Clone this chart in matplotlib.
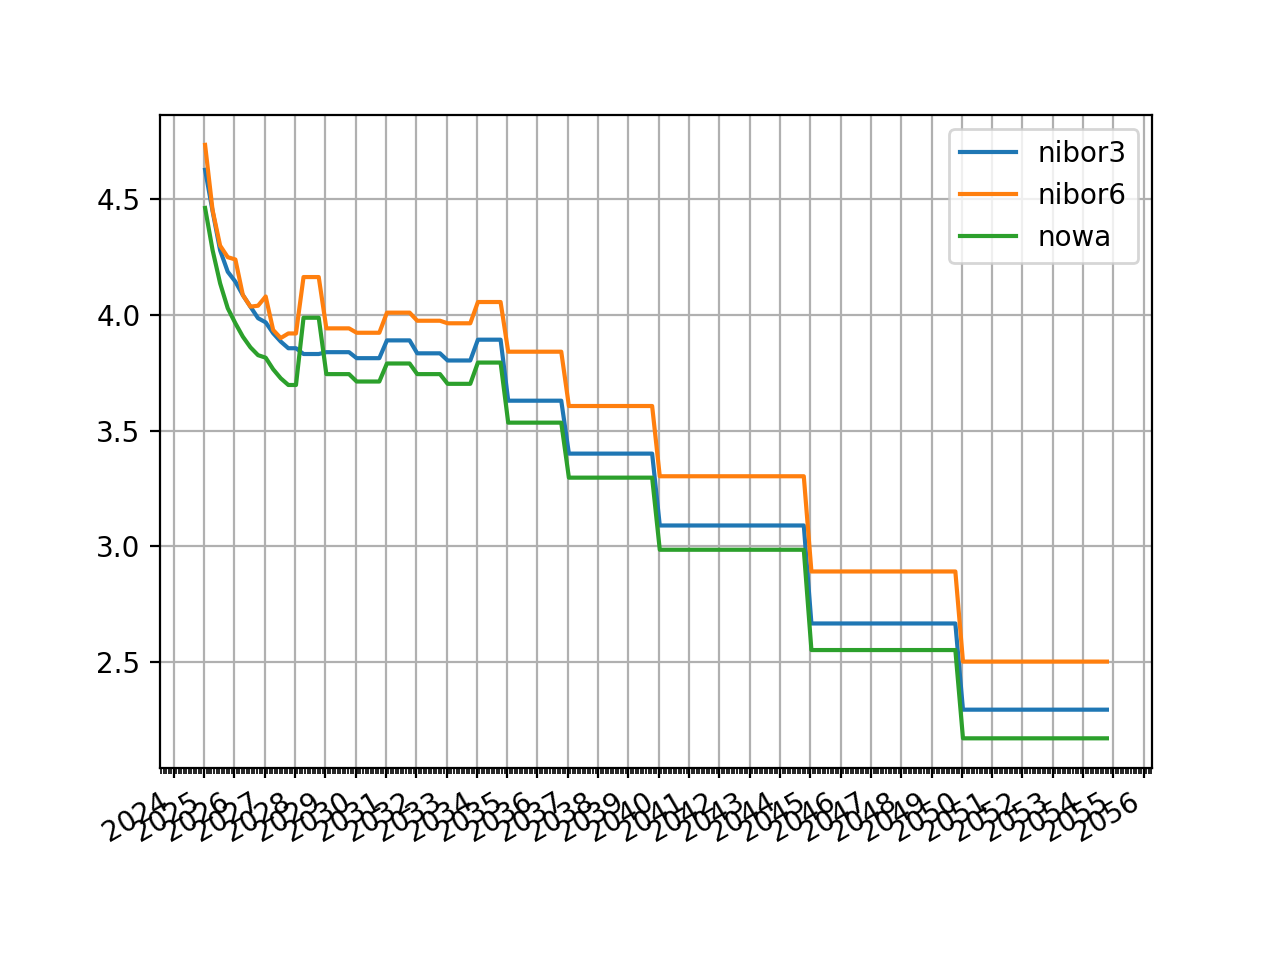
import matplotlib
matplotlib.use("Agg")
import matplotlib.pyplot as plt
import matplotlib.dates as mdates
import pandas as pd

# quarterly observation dates
start_date = "2025-01-14"
n_points = 120
dates = pd.date_range(start_date, periods=n_points, freq=pd.DateOffset(months=3))

nibor3 = [
    4.628, 4.450, 4.280, 4.187, 4.144, 4.086, 4.036, 3.986, 3.968, 3.921,
    3.885, 3.856, 3.856, 3.831, 3.831, 3.831, 3.839, 3.839, 3.839, 3.839,
    3.813, 3.813, 3.813, 3.813, 3.890, 3.890, 3.890, 3.890, 3.834, 3.834,
    3.834, 3.834, 3.803, 3.803, 3.803, 3.803, 3.893, 3.893, 3.893, 3.893,
    3.629, 3.629, 3.629, 3.629, 3.629, 3.629, 3.629, 3.629, 3.400, 3.400,
    3.400, 3.400, 3.400, 3.400, 3.400, 3.400, 3.400, 3.400, 3.400, 3.400,
    3.089, 3.089, 3.089, 3.089, 3.089, 3.089, 3.089, 3.089, 3.089, 3.089,
    3.089, 3.089, 3.089, 3.089, 3.089, 3.089, 3.089, 3.089, 3.089, 3.089,
    2.665, 2.665, 2.665, 2.665, 2.665, 2.665, 2.665, 2.665, 2.665, 2.665,
    2.665, 2.665, 2.665, 2.665, 2.665, 2.665, 2.665, 2.665, 2.665, 2.665,
    2.292, 2.292, 2.292, 2.292, 2.292, 2.292, 2.292, 2.292, 2.292, 2.292,
    2.292, 2.292, 2.292, 2.292, 2.292, 2.292, 2.292, 2.292, 2.292, 2.292,
]

nibor6 = [
    4.736, 4.454, 4.300, 4.250, 4.240, 4.086, 4.036, 4.040, 4.080, 3.935,
    3.900, 3.920, 3.920, 4.164, 4.164, 4.164, 3.942, 3.942, 3.942, 3.942,
    3.923, 3.923, 3.923, 3.923, 4.010, 4.010, 4.010, 4.010, 3.975, 3.975,
    3.975, 3.975, 3.964, 3.964, 3.964, 3.964, 4.056, 4.056, 4.056, 4.056,
    3.841, 3.841, 3.841, 3.841, 3.841, 3.841, 3.841, 3.841, 3.606, 3.606,
    3.606, 3.606, 3.606, 3.606, 3.606, 3.606, 3.606, 3.606, 3.606, 3.606,
    3.302, 3.302, 3.302, 3.302, 3.302, 3.302, 3.302, 3.302, 3.302, 3.302,
    3.302, 3.302, 3.302, 3.302, 3.302, 3.302, 3.302, 3.302, 3.302, 3.302,
    2.890, 2.890, 2.890, 2.890, 2.890, 2.890, 2.890, 2.890, 2.890, 2.890,
    2.890, 2.890, 2.890, 2.890, 2.890, 2.890, 2.890, 2.890, 2.890, 2.890,
    2.500, 2.500, 2.500, 2.500, 2.500, 2.500, 2.500, 2.500, 2.500, 2.500,
    2.500, 2.500, 2.500, 2.500, 2.500, 2.500, 2.500, 2.500, 2.500, 2.500,
]

nowa = [
    4.463, 4.281, 4.137, 4.029, 3.964, 3.906, 3.860, 3.826, 3.815, 3.765,
    3.726, 3.697, 3.697, 3.988, 3.988, 3.988, 3.744, 3.744, 3.744, 3.744,
    3.712, 3.712, 3.712, 3.712, 3.790, 3.790, 3.790, 3.790, 3.744, 3.744,
    3.744, 3.744, 3.702, 3.702, 3.702, 3.702, 3.794, 3.794, 3.794, 3.794,
    3.534, 3.534, 3.534, 3.534, 3.534, 3.534, 3.534, 3.534, 3.296, 3.296,
    3.296, 3.296, 3.296, 3.296, 3.296, 3.296, 3.296, 3.296, 3.296, 3.296,
    2.984, 2.984, 2.984, 2.984, 2.984, 2.984, 2.984, 2.984, 2.984, 2.984,
    2.984, 2.984, 2.984, 2.984, 2.984, 2.984, 2.984, 2.984, 2.984, 2.984,
    2.550, 2.550, 2.550, 2.550, 2.550, 2.550, 2.550, 2.550, 2.550, 2.550,
    2.550, 2.550, 2.550, 2.550, 2.550, 2.550, 2.550, 2.550, 2.550, 2.550,
    2.168, 2.168, 2.168, 2.168, 2.168, 2.168, 2.168, 2.168, 2.168, 2.168,
    2.168, 2.168, 2.168, 2.168, 2.168, 2.168, 2.168, 2.168, 2.168, 2.168,
]

series_names = ["nibor3", "nibor6", "nowa"]

fig = plt.figure(figsize=(6.4, 4.8), dpi=200)
ax = fig.add_subplot(111)
for name, vals in zip(series_names, [nibor3, nibor6, nowa]):
    ax.plot(dates, vals, label=name)

ax.xaxis.set_major_locator(mdates.YearLocator())
ax.xaxis.set_minor_locator(mdates.MonthLocator())
ax.xaxis.set_major_formatter(mdates.DateFormatter("%Y"))
ax.grid(True)
ax.legend()
fig.autofmt_xdate()

fig.savefig("out.png", dpi=200)
